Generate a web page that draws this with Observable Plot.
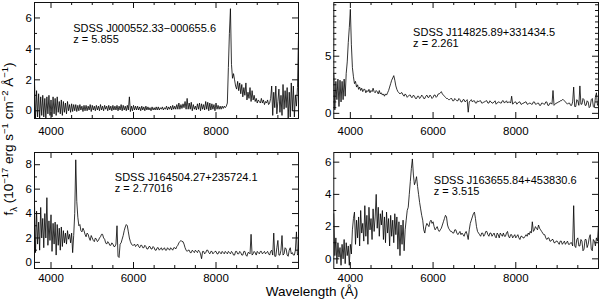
<!DOCTYPE html>
<html><head><meta charset="utf-8">
<script src="https://cdn.jsdelivr.net/npm/d3@7"></script>
<script src="https://cdn.jsdelivr.net/npm/@observablehq/plot@0.6"></script>
<style>
body{margin:0;background:#fff;}
#chart{position:relative;width:600px;height:305px;overflow:hidden;background:#fff;font-family:"Liberation Sans",Arial,sans-serif;color:#000;}
.panel{position:absolute;}
.ylab{position:absolute;left:9px;top:139px;transform:translate(-50%,-50%) rotate(-90deg);white-space:nowrap;font-size:13.5px;line-height:1;}
.xlab{position:absolute;left:312px;top:291.5px;transform:translate(-50%,-50%);white-space:nowrap;font-size:13.5px;line-height:1;}
sup,sub{font-size:70%;line-height:0;}
</style></head><body><div id="chart"></div>
<script>
const wavelength = [3600,3625,3650,3675,3700,3725,3750,3775,3800,3825,
3850,3875,3900,3925,3950,3975,4000,4025,4050,4075,
4100,4125,4150,4175,4200,4225,4250,4275,4300,4325,
4350,4375,4400,4425,4450,4475,4500,4525,4550,4575,
4600,4625,4650,4675,4700,4725,4750,4775,4800,4825,
4850,4875,4900,4925,4950,4975,5000,5025,5050,5075,
5100,5125,5150,5175,5200,5225,5250,5275,5300,5325,
5350,5375,5400,5425,5450,5475,5500,5525,5550,5575,
5600,5625,5650,5675,5700,5725,5750,5775,5800,5825,
5850,5875,5900,5925,5950,5975,6000,6025,6050,6075,
6100,6125,6150,6175,6200,6225,6250,6275,6300,6325,
6350,6375,6400,6425,6450,6475,6500,6525,6550,6575,
6600,6625,6650,6675,6700,6725,6750,6775,6800,6825,
6850,6875,6900,6925,6950,6975,7000,7025,7050,7075,
7100,7125,7150,7175,7200,7225,7250,7275,7300,7325,
7350,7375,7400,7425,7450,7475,7500,7525,7550,7575,
7600,7625,7650,7675,7700,7725,7750,7775,7800,7825,
7850,7875,7900,7925,7950,7975,8000,8025,8050,8075,
8100,8125,8150,8175,8200,8225,8250,8275,8300,8325,
8350,8375,8400,8425,8450,8475,8500,8525,8550,8575,
8600,8625,8650,8675,8700,8725,8750,8775,8800,8825,
8850,8875,8900,8925,8950,8975,9000,9025,9050,9075,
9100,9125,9150,9175,9200,9225,9250,9275,9300,9325,
9350,9375,9400,9425,9450,9475,9500,9525,9550,9575,
9600,9625,9650,9675,9700,9725,9750,9775,9800,9825,
9850,9875,9900,9925,9950,9975,10000];

const flux1 = [1.9,-0.5,1.3,-0.4,1.1,-0.5,0.9,-0.3,1.0,-0.4,
0.8,-0.5,0.9,-0.2,1.0,-0.3,0.7,-0.4,0.9,-0.2,
0.8,-0.3,0.9,-0.1,0.6,-0.2,0.7,-0.3,0.6,-0.1,
0.5,-0.2,0.6,0.0,0.4,-0.1,0.45,-0.05,0.4,0.0,
0.4,-0.05,0.35,0.0,0.4,0.05,0.3,-0.05,0.35,0.0,
0.35,0.0,0.3,0.05,0.4,-0.05,0.35,0.05,0.3,0.0,
0.35,0.05,0.3,0.0,0.4,0.05,0.3,0.0,0.35,0.1,
0.3,0.0,0.35,0.05,0.3,0.0,0.35,0.05,0.3,0.05,
0.35,0.0,0.3,0.05,0.4,0.0,0.35,0.05,0.3,0.0,
0.35,0.05,0.9,-0.05,0.3,0.0,0.35,0.05,0.3,0.05,
0.3,0.05,0.25,0.0,0.3,0.05,0.25,0.0,0.3,0.05,
0.25,0.05,0.2,0.0,0.25,0.05,0.2,0.05,0.25,0.05,
0.25,0.05,0.2,0.1,0.25,0.05,0.2,0.1,0.3,0.05,
0.25,0.1,0.3,0.05,0.35,0.1,0.3,0.1,0.4,0.1,
0.5,0.1,0.4,0.15,0.45,0.2,0.6,0.1,0.8,0.1,
0.5,0.1,0.55,0.0,0.4,0.1,0.3,0.05,0.45,0.1,
0.5,0.0,0.45,0.1,0.4,0.05,0.6,0.1,0.55,0.0,
0.5,0.05,0.45,0.1,0.4,0.0,0.5,0.1,0.35,0.1,
0.3,0.1,0.3,0.15,0.3,0.2,0.3,0.5,2.8,5.0,
6.6,3.0,2.1,2.4,2.0,1.6,1.4,1.9,1.3,1.8,
1.1,1.7,0.9,1.5,1.0,1.8,0.7,1.2,0.8,1.5,
0.6,1.3,0.7,1.0,0.6,0.8,0.5,0.7,0.6,0.5,
0.8,0.5,0.7,0.4,0.6,0.5,0.7,0.4,0.5,0.8,
1.6,-0.3,1.2,0.2,1.6,-0.2,0.6,1.4,-0.1,1.0,
-0.3,1.7,0.1,1.3,0.2,1.5,-0.5,1.2,-0.4,1.8,
0.0,1.6,-0.4,1.0,0.3,1.5,4.9];

const flux2 = [3.4,0.3,2.8,1.2,3.0,0.6,2.9,1.0,2.8,1.2,
3.0,1.5,3.5,4.5,6.2,7.5,9.1,6.0,4.0,3.2,
2.6,2.8,2.3,2.5,2.1,2.3,2.0,2.2,1.9,2.1,
2.1,1.8,2.0,1.9,2.1,1.8,2.0,1.9,2.2,1.9,
1.8,2.0,1.9,1.7,2.0,1.7,1.8,1.6,1.7,1.5,
1.7,1.6,1.8,2.0,2.3,2.6,2.9,3.1,3.3,2.9,
2.4,2.1,1.9,1.8,1.7,1.8,1.8,1.6,1.5,1.7,
1.6,1.4,1.5,1.6,1.6,1.4,1.4,1.6,1.5,1.3,
1.3,1.5,1.5,1.3,1.4,1.6,1.5,1.3,1.3,1.5,
1.6,1.4,1.4,1.6,1.5,1.3,1.4,1.6,1.6,1.4,
1.5,1.7,1.7,1.8,1.9,1.7,1.6,1.5,1.4,1.3,
1.3,1.2,1.2,1.3,1.3,1.1,1.1,1.3,1.2,1.1,
1.1,1.3,1.2,1.0,1.0,1.2,1.2,1.0,1.1,1.2,
0.1,1.0,1.1,1.2,1.0,1.1,1.1,0.9,0.9,1.1,
1.0,1.1,1.1,0.9,0.9,1.0,1.0,1.1,1.1,0.9,
0.9,1.1,1.0,0.9,0.9,1.0,1.1,0.8,0.9,1.0,
1.0,0.9,0.9,1.1,1.1,0.9,1.0,1.1,0.9,1.0,
1.0,0.9,1.5,0.8,0.9,1.0,1.0,0.8,0.9,1.0,
1.0,0.8,0.8,0.9,0.9,1.0,1.0,0.8,0.8,0.9,
0.9,0.8,0.8,1.0,1.0,0.8,0.8,0.9,0.9,0.7,
0.7,0.9,0.9,0.8,0.8,1.0,1.0,0.7,0.7,0.9,
0.9,0.8,2.0,0.7,0.8,0.9,0.9,1.0,1.0,1.1,
1.1,1.2,1.2,1.1,1.0,0.9,0.8,0.9,0.9,0.7,
0.7,1.0,2.3,0.6,0.6,1.2,1.1,0.7,2.4,0.8,
0.8,1.3,1.2,0.7,0.7,1.1,1.0,0.5,0.6,1.2,
1.3,0.6,0.5,1.4,1.8,0.7,0.9];

const flux3 = [4.8,0.8,4.2,1.5,3.3,1.0,4.5,2.0,3.6,1.2,
4.0,2.0,5.3,1.4,3.4,1.8,3.9,0.9,3.2,1.5,
3.3,0.6,3.1,1.4,2.8,1.0,2.9,1.3,2.6,1.6,
2.4,1.5,2.6,1.9,2.3,1.6,2.4,0.8,2.2,4.0,
8.4,5.0,3.7,3.0,3.1,2.6,2.5,2.8,2.6,2.3,
2.1,2.4,2.3,2.0,1.8,2.2,2.0,1.8,1.7,2.0,
1.9,1.7,1.8,2.0,2.1,2.3,2.3,2.0,1.9,1.6,
1.5,1.7,1.6,1.4,1.4,1.6,1.5,1.3,1.3,1.5,
3.0,0.5,0.4,1.5,1.6,1.9,2.2,2.6,2.9,3.1,
3.0,2.5,2.0,1.7,1.5,1.4,1.4,1.5,1.3,1.4,
1.5,1.3,1.2,1.4,1.4,1.2,1.2,1.4,1.3,1.1,
1.1,1.3,1.3,1.1,1.1,1.3,1.2,1.0,1.0,1.2,
1.2,1.0,1.1,1.2,1.0,1.1,1.2,1.0,1.0,1.2,
1.1,1.0,1.2,1.1,1.0,1.2,1.2,1.1,1.3,1.4,
1.6,1.7,1.8,1.7,1.7,1.5,1.2,1.0,0.9,1.0,
1.0,0.8,0.8,1.0,0.9,0.8,1.0,0.9,0.8,1.0,
0.9,0.7,0.3,0.9,0.9,0.7,0.8,1.0,1.0,0.8,
0.7,0.9,0.9,0.7,0.8,0.9,0.9,0.7,0.7,0.9,
0.8,0.7,0.9,0.8,0.7,0.9,0.8,0.7,0.9,0.8,
0.7,0.9,0.8,0.6,0.6,0.9,0.9,0.7,0.7,0.9,
0.8,0.6,0.6,0.9,0.9,0.6,0.5,0.8,0.8,0.7,
2.3,0.6,0.7,0.9,0.8,0.6,0.9,0.8,0.7,0.9,
0.9,0.7,0.8,0.9,0.7,0.8,0.9,0.7,0.6,0.9,
1.0,0.6,2.4,0.5,0.5,1.2,1.8,0.6,0.6,1.0,
2.2,0.6,0.7,1.2,1.1,0.6,0.5,1.0,1.2,0.7,
0.8,0.6,0.6,1.0,2.5,0.6,0.7];

const flux4 = [2.8,0.2,1.3,-0.3,1.0,0.1,0.7,-0.4,0.9,0.0,
1.2,-0.3,1.0,0.2,0.8,-0.4,0.9,0.3,1.8,2.5,
2.9,0.9,2.4,1.3,2.6,0.8,3.0,1.6,2.2,1.1,
3.3,1.4,2.7,0.9,3.2,1.8,2.5,1.2,3.1,1.7,
2.6,4.0,1.9,3.2,1.4,2.8,2.1,3.0,1.2,2.6,
1.0,2.9,1.6,2.5,0.8,2.7,1.4,2.4,1.0,2.8,
1.5,2.6,0.6,2.3,0.2,2.1,0.9,2.4,0.5,1.8,
2.4,3.0,3.2,4.0,4.8,5.6,6.2,5.2,4.6,4.8,
5.1,4.5,4.0,3.5,3.1,2.7,2.4,1.8,1.6,2.0,
2.2,2.1,2.0,2.3,2.4,2.2,2.3,2.0,1.8,1.9,
2.0,1.8,1.7,1.8,1.9,2.1,2.3,2.5,2.7,2.6,
2.1,1.9,1.8,1.7,1.7,1.6,1.6,1.8,1.8,1.6,
1.5,1.6,1.7,1.5,1.6,1.5,1.4,1.6,1.7,1.5,
1.2,1.8,2.2,2.4,2.6,2.8,2.9,2.5,2.0,1.7,
1.6,1.5,1.4,1.6,1.6,1.4,1.5,1.7,1.7,1.5,
1.4,1.6,1.6,1.4,1.5,1.6,1.4,1.3,1.6,1.5,
1.3,1.6,1.5,1.4,1.6,1.4,1.4,1.6,1.7,1.4,
1.3,1.5,1.5,1.3,1.4,1.5,1.3,1.4,1.5,1.3,
1.2,1.4,1.4,1.3,1.3,1.4,1.5,1.4,1.6,1.5,
1.7,1.6,2.3,1.7,1.8,2.0,1.9,1.8,2.1,1.9,
1.8,1.7,1.6,1.5,1.5,1.3,1.2,1.3,1.3,1.1,
1.1,1.2,1.2,1.0,1.0,1.1,1.1,1.0,0.9,1.1,
1.1,0.9,1.0,1.1,0.9,1.0,1.1,0.9,0.9,1.0,
1.0,0.8,3.3,0.8,0.7,1.2,1.3,0.8,0.8,1.2,
1.1,0.5,0.6,1.2,1.2,0.7,0.9,1.3,1.5,0.6,
0.5,1.2,1.1,0.8,1.3,1.1,2.1];

const names = ["SDSS J000552.33\u2212000655.6","SDSS J114825.89+331434.5","SDSS J164504.27+235724.1","SDSS J163655.84+453830.6"];
const redshifts = ["z = 5.855","z = 2.261","z = 2.77016","z = 3.515"];

const xDomain = [3600, 10000];
const xMajor = [4000, 6000, 8000];
const xMinor = [4500, 5000, 5500, 6500, 7000, 7500, 8500, 9000, 9500];

const yDomains = [[-0.5, 7.0], [-0.45, 9.7], [-0.5, 9.0], [-0.6, 6.6]];
const yMajors = [[0,2,4,6], [0,5], [0,2,4,6,8], [0,2,4,6]];
const yMinors = [[1,3,5], [0.5,1,1.5,2,2.5,3,3.5,4,4.5,5.5,6,6.5,7,7.5,8,8.5,9,9.5], [1,3,5,7], [1,3,5]];

const fontFamily = '"Liberation Sans", Arial, sans-serif';

const layout = [
  {left:0, top:0, mL:34, xPad:8, dx:38.7, dy:21.3},
  {left:300, top:0, mL:33.3, xPad:8, dx:79.3, dy:25.3},
  {left:0, top:150, mL:34, xPad:5.5, dx:80.3, dy:20.3},
  {left:300, top:150, mL:33.3, xPad:5.5, dx:100, dy:23.7}
];
const fluxes = [flux1, flux2, flux3, flux4];

const chart = document.getElementById("chart");

function panel(i){
  const L = layout[i];
  const W = 300, H = 140, mT = 2, mB = 22, mR = 2;
  const ph = H - mT - mB, pw = W - L.mL - mR;
  const data = wavelength.map((w, k) => ({w, f: fluxes[i][k]})).filter(d => d.f !== undefined);
  const ts = {stroke:"#111", strokeWidth:1};
  const p = Plot.plot({
    width:W, height:H, marginTop:mT, marginBottom:mB, marginLeft:L.mL, marginRight:mR,
    x:{domain:xDomain}, y:{domain:yDomains[i]},
    style:{fontFamily, fontSize:"11.5px", background:"transparent", color:"#000", overflow:"visible"},
    marks:[
      Plot.line(data, {x:"w", y:"f", stroke:"#000", strokeWidth:0.8, clip:true}),
      Plot.tickX(xMinor, {x:d=>d, insetTop:ph-3, ...ts}),
      Plot.tickX(xMinor, {x:d=>d, insetBottom:ph-3, ...ts}),
      Plot.tickX(xMajor, {x:d=>d, insetTop:ph-6, ...ts}),
      Plot.tickX(xMajor, {x:d=>d, insetBottom:ph-6, ...ts}),
      Plot.tickY(yMinors[i], {y:d=>d, insetRight:pw-3, ...ts}),
      Plot.tickY(yMinors[i], {y:d=>d, insetLeft:pw-3, ...ts}),
      Plot.tickY(yMajors[i], {y:d=>d, insetRight:pw-6, ...ts}),
      Plot.tickY(yMajors[i], {y:d=>d, insetLeft:pw-6, ...ts}),
      Plot.frame({stroke:"#111", strokeWidth:1}),
      Plot.axisX(xMajor, {tickSize:0, tickPadding:L.xPad, label:null, tickFormat:d3.format("d")}),
      Plot.axisY(yMajors[i], {tickSize:0, tickPadding:2.5, label:null, tickFormat:d3.format("d")}),
      Plot.text([names[i] + "\n" + redshifts[i]], {frameAnchor:"top-left", dx:L.dx, dy:L.dy, lineAnchor:"top", textAnchor:"start", fontSize:11, lineHeight:1, fill:"#000"})
    ]
  });
  const d = document.createElement("div");
  d.className = "panel";
  d.style.left = L.left + "px";
  d.style.top = L.top + "px";
  d.appendChild(p);
  chart.appendChild(d);
}
for (let i = 0; i < 4; i++) panel(i);

const yl = document.createElement("div");
yl.className = "ylab";
yl.innerHTML = "f<sub>\u03bb</sub> (10<sup>\u221217</sup> erg s<sup>\u22121</sup> cm<sup>\u22122</sup> \u00c5<sup>\u22121</sup>)";
chart.appendChild(yl);
const xl = document.createElement("div");
xl.className = "xlab";
xl.textContent = "Wavelength (\u00c5)";
chart.appendChild(xl);
</script>
</body></html>
